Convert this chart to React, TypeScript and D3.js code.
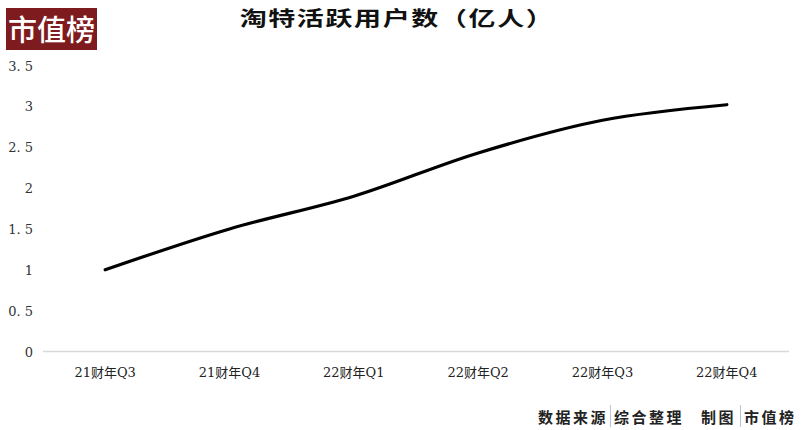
import React from "react";
import * as d3 from "d3";

// data
const quarters: string[] = ["21财年Q3", "21财年Q4", "22财年Q1", "22财年Q2", "22财年Q3", "22财年Q4"];
const activeUsers: number[] = [1.0, 1.5, 1.9, 2.43, 2.83, 3.02];
const yTicks: number[] = [0, 0.5, 1, 1.5, 2, 2.5, 3, 3.5];

const title = "淘特活跃用户数（亿人）";
const brand = "市值榜";

const W = 801;
const H = 430;
const margin = { top: 65.5, right: 12, bottom: 78.5, left: 43 };

const serif = "'DejaVu Serif', 'Liberation Serif', 'Noto Sans CJK SC', serif";
const cjk = "'Noto Sans CJK SC', sans-serif";

const App = () => {
  const x = d3
    .scaleBand<string>()
    .domain(quarters)
    .range([margin.left, W - margin.right]);
  const y = d3
    .scaleLinear()
    .domain([0, 3.5])
    .range([H - margin.bottom, margin.top]);

  const line = d3
    .line<number>()
    .x((_, i) => (x(quarters[i]) as number) + x.bandwidth() / 2)
    .y((d) => y(d))
    .curve(d3.curveCatmullRom.alpha(0.5));

  const fmt = (v: number) => (Number.isInteger(v) ? `${v}` : `${v}`.replace(".", ". "));

  return (
    <svg
      width={W}
      height={H}
      style={{ position: "absolute", left: 0, top: 0, background: "#fff" }}
    >
      {/* brand badge */}
      <rect x={6} y={8} width={91} height={42} fill="#7e1b1e" />
      <text
        x={51.5}
        y={41}
        textAnchor="middle"
        fill="#fff"
        fontFamily={cjk}
        fontSize={29}
        fontWeight={500}
      >
        {brand}
      </text>

      {/* title - the original face is wide, so stretch horizontally */}
      <text
        transform="translate(397,26) scale(1.35,1)"
        textAnchor="middle"
        fontFamily={cjk}
        fontSize={20}
        fontWeight={700}
        letterSpacing={1.2}
        fill="#111"
      >
        {title}
      </text>

      {/* y tick labels */}
      {yTicks.map((t) => (
        <text
          key={t}
          x={33}
          y={y(t) + 5}
          textAnchor="end"
          fontFamily={serif}
          fontSize={13}
          fill="#333"
        >
          {fmt(t)}
        </text>
      ))}

      {/* baseline */}
      <line
        x1={margin.left}
        x2={W - margin.right}
        y1={y(0)}
        y2={y(0)}
        stroke="#d9d9d9"
        strokeWidth={1.5}
      />

      {/* x labels */}
      {quarters.map((q) => (
        <text
          key={q}
          x={(x(q) as number) + x.bandwidth() / 2}
          y={377}
          textAnchor="middle"
          fontFamily={serif}
          fontSize={13}
          fill="#222"
        >
          {q}
        </text>
      ))}

      {/* series line */}
      <path
        d={line(activeUsers) || ""}
        fill="none"
        stroke="#000"
        strokeWidth={3.2}
        strokeLinecap="round"
      />

      {/* footer */}
      <g fontFamily={cjk} fontSize={15} fontWeight={700} fill="#222" letterSpacing={2.5}>
        <text x={538} y={423}>数据来源</text>
        <line x1={610.5} x2={610.5} y1={405} y2={427} stroke="#b8c4d6" strokeWidth={1} />
        <text x={614} y={423}>综合整理</text>
        <text x={701} y={423}>制图</text>
        <line x1={740.5} x2={740.5} y1={405} y2={427} stroke="#b8c4d6" strokeWidth={1} />
        <text x={744} y={423}>市值榜</text>
      </g>
    </svg>
  );
};

export default App;
